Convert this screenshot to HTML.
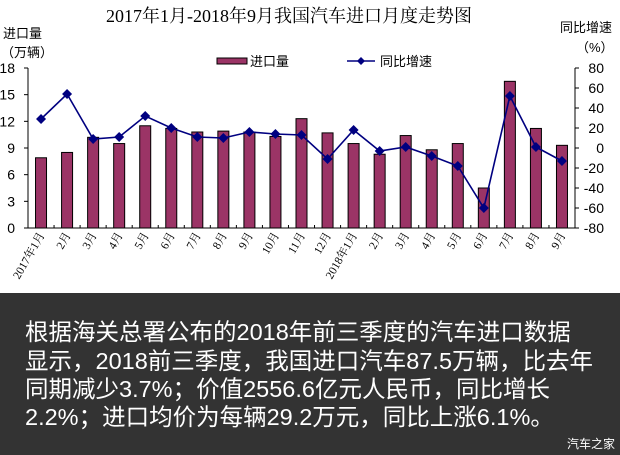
<!DOCTYPE html>
<html><head><meta charset="utf-8"><style>
html,body{margin:0;padding:0;background:#fff;}
body{width:620px;height:455px;position:relative;overflow:hidden;}
.t{position:absolute;left:25px;color:#fff;font-family:"Liberation Sans","Noto Sans CJK SC",sans-serif;font-size:23.5px;line-height:28px;white-space:nowrap;}
</style></head><body>
<svg width="620" height="455" style="position:absolute;left:0;top:0" xmlns="http://www.w3.org/2000/svg">
<rect x="0" y="293" width="620" height="162" fill="#333333"/>
<text x="289" y="22" text-anchor="middle" font-family="Liberation Serif,Noto Serif CJK SC,serif" font-size="18" fill="#000">2017年1月-2018年9月我国汽车进口月度走势图</text>
<g font-family="Liberation Sans,Noto Sans CJK SC,sans-serif" font-size="13" fill="#000">
<text x="3" y="38">进口量</text>
<text x="1" y="57">（万辆）</text>
<text x="560" y="32">同比增速</text>
<text x="576" y="52">（%）</text>
</g>
<rect x="217" y="58" width="30" height="6" fill="#9b3466" stroke="#000" stroke-width="1"/>
<text x="250" y="66" font-family="Liberation Sans,Noto Sans CJK SC,sans-serif" font-size="13">进口量</text>
<line x1="347" y1="61" x2="375" y2="61" stroke="#000080" stroke-width="1.6"/>
<path d="M361 57 L365 61 L361 65 L357 61Z" fill="#000080"/>
<text x="380" y="66" font-family="Liberation Sans,Noto Sans CJK SC,sans-serif" font-size="13">同比增速</text>
<g id="plot"></g>
<text x="567" y="448" font-family="Liberation Sans,Noto Sans CJK SC,sans-serif" font-size="12" fill="#fff">汽车之家</text>
</svg>
<div class="t" style="top:318px">根据海关总署公布的2018年前三季度的汽车进口数据</div>
<div class="t" style="top:347px">显示，2018前三季度，我国进口汽车87.5万辆，比去年</div>
<div class="t" style="top:375px">同期减少3.7%；价值2556.6亿元人民币，同比增长</div>
<div class="t" style="top:403px">2.2%；进口均价为每辆29.2万元，同比上涨6.1%。</div>
<script>
var bars=[7.9,8.5,10.2,9.5,11.5,11.2,10.8,10.9,10.8,10.3,12.3,10.7,9.5,8.3,10.4,8.8,9.5,4.5,16.5,11.2,9.3];
var line=[29,54,9,11,32,20,11,10,16,14,13,-11,18,-3,1,-8,-18,-60,52,1,-13];
var labs=["2017年1月","2月","3月","4月","5月","6月","7月","8月","9月","10月","11月","12月","2018年1月","2月","3月","4月","5月","6月","7月","8月","9月"];
var L=28,R=575,T=68,B=228,w=(R-L)/21,s="";
s+='<line x1="'+L+'" y1="'+T+'" x2="'+L+'" y2="'+B+'" stroke="#000"/>';
s+='<line x1="'+R+'" y1="'+T+'" x2="'+R+'" y2="'+B+'" stroke="#000"/>';
s+='<line x1="'+L+'" y1="'+B+'" x2="'+R+'" y2="'+B+'" stroke="#000"/>';
for(var i=0;i<=6;i++){var y=B-i*(B-T)/6;s+='<line x1="'+(L-4)+'" y1="'+y+'" x2="'+L+'" y2="'+y+'" stroke="#000"/>';
s+='<text x="15" y="'+(y+5)+'" text-anchor="end" font-family="Liberation Sans,sans-serif" font-size="14">'+(i*3)+'</text>';}
for(var i=0;i<=8;i++){var y=B-i*(B-T)/8;s+='<line x1="'+R+'" y1="'+y+'" x2="'+(R+4)+'" y2="'+y+'" stroke="#000"/>';
s+='<text x="604" y="'+(y+5)+'" text-anchor="end" font-family="Liberation Sans,sans-serif" font-size="14">'+(i*20-80)+'</text>';}
var pts=[];
for(var i=0;i<21;i++){var cx=L+w*(i+0.5);var h=bars[i]/18*(B-T);
s+='<rect x="'+(cx-5.5)+'" y="'+(B-h)+'" width="11" height="'+h+'" fill="#9b3466" stroke="#000" stroke-width="1"/>';
s+='<line x1="'+(L+w*i)+'" y1="'+B+'" x2="'+(L+w*i)+'" y2="'+(B-3)+'" stroke="#000"/>';
pts.push(cx+','+(B-(line[i]+80)));
s+='<text transform="translate('+(cx+4)+',235) rotate(-60)" text-anchor="end" font-family="Liberation Serif,Noto Serif CJK SC,serif" font-size="11.5">'+labs[i]+'</text>';}
s+='<polyline points="'+pts.join(' ')+'" fill="none" stroke="#000080" stroke-width="1.6"/>';
pts.forEach(function(p){var a=p.split(',');var x=+a[0],y=+a[1];s+='<path d="M'+x+' '+(y-5)+' L'+(x+5)+' '+y+' L'+x+' '+(y+5)+' L'+(x-5)+' '+y+'Z" fill="#000080"/>';});
document.getElementById('plot').innerHTML=s;
</script>
</body></html>
